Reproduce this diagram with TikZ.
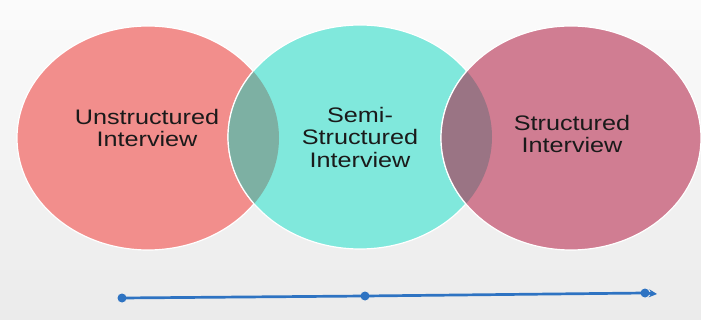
\documentclass[tikz,border=0pt]{standalone}
\usepackage{fontspec}
\setmainfont{Liberation Sans}
\usetikzlibrary{arrows.meta}
\definecolor{bgtop}{HTML}{FBFBFB}
\definecolor{bgbot}{HTML}{EBEBEB}
\definecolor{salmon}{HTML}{F28E8C}
\definecolor{aqua}{HTML}{80E8DC}
\definecolor{rose}{HTML}{D07D92}
\definecolor{mixA}{HTML}{7DB0A3}
\definecolor{mixB}{HTML}{9A7484}
\definecolor{lineblue}{HTML}{2E73C2}
\definecolor{txt}{HTML}{1A1A1A}
\tikzset{
  bubble/.style={draw=white, line width=1.2pt},
  label/.style={align=center, text=txt, font=\fontsize{21}{22.5}\selectfont,
                xscale=1.2, transform shape},
  tick/.style={circle, fill=lineblue, inner sep=0pt, minimum size=9pt},
}
\begin{document}
\begin{tikzpicture}[x=1pt, y=-1pt]
  \useasboundingbox (0,0) rectangle (701,320);
  \shade[top color=bgtop, bottom color=bgbot] (0,0) rectangle (701,320);

  % the three interview types
  \def\ellL{(148,138) ellipse [x radius=131, y radius=112]}
  \def\ellM{(360,137) ellipse [x radius=132, y radius=112]}
  \def\ellR{(571,138) ellipse [x radius=130, y radius=112]}

  \fill[salmon] \ellL;
  \draw[bubble] \ellL;
  \fill[aqua] \ellM;
  \draw[bubble] \ellM;
  \fill[rose] \ellR;
  \draw[bubble] \ellR;

  % overlapping lenses
  \begin{scope}
    \clip \ellL;
    \fill[mixA] \ellM;
    \draw[bubble] \ellM;
  \end{scope}
  \begin{scope}
    \clip \ellM;
    \fill[mixB] \ellR;
    \draw[bubble] \ellR;
  \end{scope}

  \node[label] (unstr) at (147,128) {Unstructured\\Interview};
  \node[label] (semi)  at (360,137) {Semi-\\Structured\\Interview};
  \node[label] (str)   at (572,134) {Structured\\Interview};

  % scale line beneath
  \node[tick] (p1) at (122,298) {};
  \node[tick] (p2) at (365,296) {};
  \node[tick] (p3) at (645,293) {};
  \coordinate (tip) at (657,294);
  \draw[lineblue, line width=2.7pt] (p1.center) -- (p2.center) -- (p3.center);
  \draw[lineblue, line width=2.7pt, -{Stealth[length=8pt, width=8pt]}] (p3.center) -- (tip);
\end{tikzpicture}
\end{document}
